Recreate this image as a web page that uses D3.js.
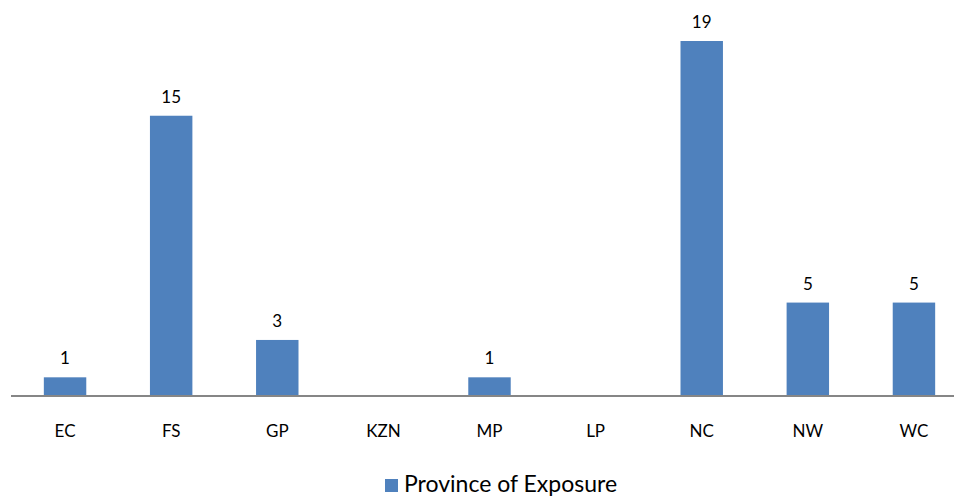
<!DOCTYPE html>
<html>
<head>
<meta charset="utf-8">
<script src="https://cdn.jsdelivr.net/npm/d3@7"></script>
<style>
  html, body { margin: 0; padding: 0; background: #fff; overflow: hidden; }
  svg { display: block; font-family: Lato, "Open Sans", sans-serif; }
</style>
</head>
<body>
<svg id="chart" width="954" height="497"></svg>
<script>
// Province of exposure counts
const provinces = ["EC", "FS", "GP", "KZN", "MP", "LP", "NC", "NW", "WC"];
const counts = [1, 15, 3, 0, 1, 0, 19, 5, 5];
const seriesName = "Province of Exposure";

const svg = d3.select("#chart");
const baseY = 396;

const x = d3.scaleBand()
  .domain(provinces)
  .range([12, 967])
  .paddingInner(0.6)
  .paddingOuter(0.3);

const y = d3.scaleLinear()
  .domain([0, 19])
  .range([baseY, 41]);

const data = provinces.map((p, i) => ({ p, v: counts[i] }));

// bars
svg.append("g").selectAll("rect")
  .data(data.filter(d => d.v > 0))
  .join("rect")
  .attr("x", d => x(d.p))
  .attr("y", d => y(d.v))
  .attr("width", x.bandwidth())
  .attr("height", d => y(0) - y(d.v))
  .attr("fill", "#4F81BD");

// value labels
svg.append("g").selectAll("text")
  .data(data.filter(d => d.v > 0))
  .join("text")
  .attr("x", d => x(d.p) + x.bandwidth() / 2)
  .attr("y", d => y(d.v) - 13)
  .attr("text-anchor", "middle")
  .attr("font-size", 17)
  .attr("fill", "#000")
  .text(d => d.v);

// category axis
const axis = svg.append("g")
  .attr("transform", `translate(0,${baseY})`)
  .call(d3.axisBottom(x).tickSize(0).tickPadding(29));
axis.select(".domain").attr("stroke", "#868686").attr("stroke-width", 2)
  .attr("d", `M11,0H967`);
axis.selectAll("text").attr("font-size", 17).attr("fill", "#000")
  .attr("font-family", "Lato, 'Open Sans', sans-serif");

// legend
const legend = svg.append("g").attr("transform", "translate(385,479)");
legend.append("rect").attr("width", 13).attr("height", 13).attr("fill", "#4F81BD");
legend.append("text")
  .attr("x", 19).attr("y", 13)
  .attr("font-size", 23)
  .attr("fill", "#000")
  .text(seriesName);
</script>
</body>
</html>
